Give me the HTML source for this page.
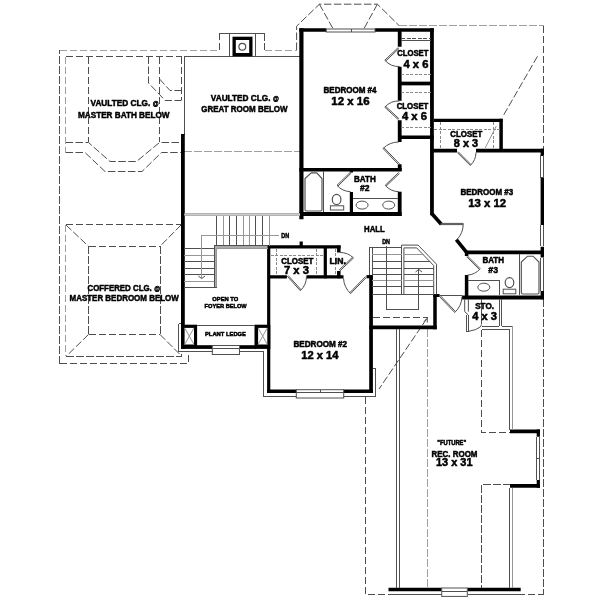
<!DOCTYPE html>
<html><head><meta charset="utf-8">
<style>
html,body{margin:0;padding:0;background:#fff;}
svg{display:block;will-change:transform}
text{font-family:"Liberation Sans",sans-serif;font-weight:bold;fill:#000;stroke:#000;stroke-width:0.5;stroke-linejoin:round}
.w{stroke:#000;stroke-width:3.2;fill:none;stroke-linecap:butt;stroke-linejoin:miter}
.t{stroke:#505050;stroke-width:1;fill:none}
.g{stroke:#969696;stroke-width:1;fill:none}
.d{stroke:#4d4d4d;stroke-width:1;fill:none;stroke-dasharray:7.5 2.5}
.dg{stroke:#a0a0a0;stroke-width:1;fill:none;stroke-dasharray:7.5 2.5}
.ds{stroke:#8a8a8a;stroke-width:1;fill:none;stroke-dasharray:3 1.5}
.wh{fill:#fff;stroke:#505050;stroke-width:1}
</style></head><body>
<svg width="600" height="600" viewBox="0 0 600 600">
<rect width="600" height="600" fill="#fff"/>

<!-- ===== DASHED: master bath ceiling ===== -->
<g class="d" id="dash-mbath">
<path d="M59.5 363.5V50" shape-rendering="crispEdges"/>
<path d="M65.7 56.5H181.5" shape-rendering="crispEdges"/>
<path d="M88.5 56.5V142" shape-rendering="crispEdges"/>
<path d="M159.5 56.5V142" shape-rendering="crispEdges"/>
<path d="M181.5 56.5V100" shape-rendering="crispEdges"/>
<path d="M148.5 56.5V83L159.5 94.5L165 100.5H181.5"/>
<path d="M159.5 79L170 90.5H181.5"/>
<path d="M65.5 142.5H88.5L110 161.5H136.5L159.5 142.5H181.5"/>
<path d="M65.5 152.5H85L105 171.5H142L161.5 152.5H181.5"/>
</g>
<g class="dg">
<path d="M59.5 50H219" shape-rendering="crispEdges"/>
<path d="M264.7 50H296.6" shape-rendering="crispEdges"/>
<path d="M65.7 56.5V152.5" shape-rendering="crispEdges"/>
<path d="M184 151.8H300" shape-rendering="crispEdges"/>
<path d="M65.7 224.5V356" shape-rendering="crispEdges"/>
<path d="M399 25.5H543.5" shape-rendering="crispEdges"/>
<path d="M427.5 328.6V588" shape-rendering="crispEdges" style="stroke-dasharray:8 2"/>
</g>

<!-- ===== DASHED: coffered ceiling ===== -->
<g class="d" id="dash-coff">
<path d="M65.7 224.5H181" shape-rendering="crispEdges"/>
<path d="M88.5 246.3H160" shape-rendering="crispEdges"/>
<path d="M88.5 246.3V334.5" shape-rendering="crispEdges"/>
<path d="M160 246.3V334.5" shape-rendering="crispEdges"/>
<path d="M88.5 334.5H160" shape-rendering="crispEdges"/>
<path d="M66 225L88.5 246.3"/>
<path d="M181 225L160 246.3"/>
<path d="M88.5 334.5L66 356.5"/>
<path d="M160 334.5L181 355.5"/>
<path d="M66 356.5H181V351.5" shape-rendering="crispEdges"/>
<path d="M59.5 363.5H188V352" shape-rendering="crispEdges"/>
</g>

<!-- ===== DASHED: roof lines ===== -->
<g class="d" id="dash-roof">
<path d="M219.2 50V33.3M264.7 33.3V50" shape-rendering="crispEdges"/>
<path d="M296.6 50V26.2L319.4 4.2H377.4L399 25.5"/>
<path d="M543.5 25.5V150" shape-rendering="crispEdges"/>
<path d="M319.4 4.2L333 28.6"/>
<path d="M377.4 4.2L364 28.6"/>
<path d="M537.5 56.3L502.5 117"/>
<path d="M543.5 299V594" shape-rendering="crispEdges"/>
<path d="M365 396.5V594H543.5" shape-rendering="crispEdges"/>
<path d="M481.6 329.5V432.5H510.5" shape-rendering="crispEdges"/>
<path d="M510.5 484.3H481.5V588" shape-rendering="crispEdges"/>
<path d="M372.5 317.8H427.8" shape-rendering="crispEdges"/>
<path d="M426.7 318.8L379 389"/>
</g>

<!-- ===== THIN solid ===== -->
<g class="t" id="thin">
<!-- great room -->
<path d="M184.3 135V56.4H300" shape-rendering="crispEdges"/>
<path d="M229.2 33.3V56.3M255.3 33.3V56.3M219.2 33.3H264.7" shape-rendering="crispEdges"/>
<!-- stair hall top double line -->
<path d="M184.3 213.6H300M184.3 215.8H300" shape-rendering="crispEdges"/>
</g>

<!-- ===== THICK walls ===== -->
<g class="w" id="walls">
<!-- chimney -->
<rect x="234.15" y="38.35" width="16.7" height="16.3" style="stroke-width:3.3"/>
<!-- bedroom 4 -->
<path d="M301.4 219.3V28.3" style="stroke-width:4.2"/>
<path d="M299.3 30.05H326.3M375 30.05H433.8" style="stroke-width:3.6"/>
<path d="M431.95 28.3V215.3" style="stroke-width:3.8"/>
<path d="M399.7 31V46.7M399.7 66.7V100.7M399.7 120.2V142.1M399.7 164.2V171" style="stroke-width:3.8"/>
<path d="M401 83.5H431" style="stroke-width:3.7"/>
<path d="M398 137.2H433.7" style="stroke-width:3.6"/>
<path d="M299.3 169.75H401.6" style="stroke-width:3.4"/>
<!-- bath 2 -->
<path d="M299.3 214H401.6" style="stroke-width:4"/>
<path d="M399.7 191.7V216" style="stroke-width:3.8"/>
<path d="M351.4 192V212.2M351.4 170.8V172.5" style="stroke-width:3.2"/>
<!-- closet 8x3 -->
<path d="M433.7 120.4H502.6"/>
<path d="M501.1 118.8V152" style="stroke-width:3.5"/>
<!-- bedroom 3 -->
<path d="M430.7 150.6H457M476 150.6H543.8" style="stroke-width:3.6"/>
<path d="M542.3 148.8V156M542.3 177.2V225M542.3 246.8V257.5M542.3 291V299.3" style="stroke-width:3.4"/>
<path d="M432.2 214L441.3 224.3" style="stroke-width:3.6"/>
<path d="M456.3 239.6L467 252.8" style="stroke-width:3.6"/>
<path d="M465 252.4H544" style="stroke-width:3.9"/>
<!-- bath 3 -->
<path d="M466.6 252V256M466.6 275.1V296" style="stroke-width:3.5"/>
<path d="M462 297.5H544" style="stroke-width:4.1"/>
<!-- stairwell -->
<path d="M371.05 275.2V392.8" style="stroke-width:3.7"/>
<path d="M366.5 276.7H372.5"/>
<path d="M369.3 327.4H436.7" style="stroke-width:3.8"/>
<path d="M435 294.3V329.3" style="stroke-width:3.5"/>
<path d="M433.3 295.5H439.6" style="stroke-width:3"/>
<!-- bedroom 2 -->
<path d="M268.7 245.4V392.8"/>
<path d="M267 246.9H340.6"/>
<path d="M301.2 241.5V246"/>
<path d="M325.3 248V278.3"/>
<path d="M338.8 245.4V252.4M338.8 271V278.3" style="stroke-width:3.5"/>
<path d="M268 276.8H286.9M306.5 276.8H343.5"/>
<path d="M267 391.3H297.5M342.5 391.3H372.9" style="stroke-width:3.4"/>
<!-- foyer -->
<path d="M182.9 134V348.9" style="stroke-width:3.8"/>
<!-- rec room -->
<path d="M388.5 589.5H441.7M467.3 589.5H520.7" style="stroke-width:3.6"/>
<path d="M510 431.3H540M510 485.8H540" style="stroke-width:3.8"/>
<path d="M538.3 429.4V436.7M538.3 480V487.7"/>
</g>


<!-- ===== plant ledge / foyer bottom ===== -->
<g id="ledge">
<rect x="181.2" y="324.7" width="15.9" height="24.2" fill="#000"/>
<rect x="254.5" y="324.7" width="15.8" height="24.2" fill="#000"/>
<rect x="196" y="345.2" width="60" height="3.7" fill="#000"/>
<rect x="184.6" y="327.9" width="9.4" height="16.6" fill="#fff"/>
<rect x="258.1" y="327.9" width="9.2" height="16.6" fill="#fff"/>
<path class="t" d="M197 325.2H254.5" shape-rendering="crispEdges"/>
<path class="g" d="M184.6 327.9L194 344.5M194 327.9L184.6 344.5M258.1 327.9L267.3 344.5M267.3 327.9L258.1 344.5"/>
<rect class="wh" x="212.3" y="345.5" width="27.2" height="9"/>
<path class="t" d="M212.5 348.5H239.5" shape-rendering="crispEdges"/>
<path class="t" d="M178.5 323.5H181.3M178.5 323.5V351.5H212.5M239.5 351.5H263.7V396.3H296.3" shape-rendering="crispEdges"/>
</g>

<!-- ===== bedroom 2 window + outer lines ===== -->
<g id="b2win">
<rect class="wh" x="296.3" y="389.7" width="47.4" height="8.3"/>
<path class="t" d="M296.3 392.6H343.7M320.5 389.7V392.6" shape-rendering="crispEdges"/>
<path class="t" d="M343.7 396H375.8V368H372.5" shape-rendering="crispEdges"/>
</g>

<!-- ===== bedroom 4 window ===== -->
<rect class="wh" x="326.3" y="29" width="48.7" height="3"/>
<path class="t" d="M351 29V32" shape-rendering="crispEdges"/>

<!-- ===== bedroom 3 / bath 3 windows ===== -->
<g class="t">
<path d="M540.9 155V177.5M543.5 155V177.5" shape-rendering="crispEdges"/>
<path d="M540.9 225V246.3M543.5 225V246.3" shape-rendering="crispEdges"/>
<path d="M540.9 257.5V291M543.5 257.5V291" shape-rendering="crispEdges"/>
</g>

<!-- ===== rec room thin walls ===== -->
<g class="t" id="rec">
<path d="M396.3 328.6V588M399.4 328.6V588" shape-rendering="crispEdges"/>
<path d="M509.5 487.7V588" shape-rendering="crispEdges"/><path class="g" d="M512.5 487.7V588" shape-rendering="crispEdges"/>
<path d="M536.9 436.7V480M539.6 436.7V480M536.9 458.3H539.6" shape-rendering="crispEdges"/>
<path d="M388.5 594.5H442M467.5 594.5H520.5" shape-rendering="crispEdges"/>
<rect class="wh" x="441.7" y="588" width="25.6" height="8.4"/>
<path d="M441.7 591.3H467.3" shape-rendering="crispEdges"/>
</g>

<!-- ===== STO closet thin walls ===== -->
<g class="t" id="sto">
<path d="M439.2 295.3H462" shape-rendering="crispEdges"/>
<path d="M499.1 299.3V326.2M501.8 299.3V326.2" shape-rendering="crispEdges"/>
<path d="M481.6 299.3V324.4" shape-rendering="crispEdges"/>
<path d="M481.6 326.2H499.1M501.8 326.2H512.5" shape-rendering="crispEdges"/><path class="g" d="M512.5 326.2V429.5" shape-rendering="crispEdges"/>
<path d="M481.6 329.1H509.5V429.5" shape-rendering="crispEdges"/>
<path d="M464.7 299.3V311.6L468.4 315M468.4 299.3V311.6"/>
<path d="M466.4 315V331.4H468.4V315" shape-rendering="crispEdges"/>
<path d="M468.4 331.4Q477 330 480.4 326.8L481.6 324.4"/>
</g>

<!-- ===== upper stairs (foyer) ===== -->
<g id="stairsL">
<path d="M214.2 245.8H267.5V248.3H216.7V287.5H214.2Z" fill="#aaa" stroke="none"/>
<rect x="184.3" y="213.2" width="115.7" height="2.6" fill="#ccc"/>
<path class="t" d="M216.7 215.8V245.8M229.7 215.8V245.8M236.3 215.8V245.8M255.8 215.8V245.8M262.5 215.8V245.8" shape-rendering="crispEdges"/>
<path class="g" d="M223.3 215.8V245.8M243 215.8V245.8M249.2 215.8V245.8M269.2 215.8V245.8" shape-rendering="crispEdges"/>
<path class="t" d="M214.2 287.5V245.8H267.5" shape-rendering="crispEdges"/>
<path class="g" d="M216.7 287.5V248.3H267.5" shape-rendering="crispEdges"/>
<path class="t" d="M184.3 248.7H214.2M184.3 261.7H214.2M184.3 268H214.2M184.3 274.7H214.2M184.3 287.2H216.7" shape-rendering="crispEdges"/>
<path class="g" d="M184.3 255H214.2M184.3 281.3H214.2" shape-rendering="crispEdges"/>
<path class="g" d="M279.3 235H201.7V278.3" shape-rendering="crispEdges"/>
<path class="t" d="M198.3 276L201.7 278.6L205.1 276"/>
</g>

<!-- ===== main stairs ===== -->
<g id="stairsR">
<path class="t" d="M369.3 247.9V274.8M372 247.9V274.8" shape-rendering="crispEdges"/>
<path class="t" d="M369.3 247.9H401.5" shape-rendering="crispEdges"/>
<path class="t" d="M401.5 294.4V245.1H418.1L436.5 264.2V294.4"/>
<path class="t" d="M403.9 294.4V247.9H416.7L433.7 265.6V294.4"/>
<path class="t" d="M372 261.3H401.5M372 268.2H401.5M372 274.2H401.5M372 286.9H401.5M372 294.4H401.5" shape-rendering="crispEdges"/>
<path class="g" d="M372 254.8H401.5M372 280.5H401.5M403.9 254.8H423.5M403.9 280.5H433.7" shape-rendering="crispEdges"/>
<path class="t" d="M403.9 261.3H429.5M403.9 268.2H433.7M403.9 274.2H433.7M403.9 286.9H433.7M401.5 294.4H433.7" shape-rendering="crispEdges"/>
<path class="t" d="M386.5 245.8V309.5H418.8V269.4" shape-rendering="crispEdges"/>
<path class="t" d="M415.5 272L418.8 269.4L422 272"/>
<path class="t" d="M424 321.5L427.3 318.2L427.3 322.5"/>
</g>


<!-- ===== doors ===== -->
<g class="t" id="doors">
<!-- closet4x6 #1 -->
<path d="M398.3 47.5L384.8 60.2A18.5 18.5 0 0 0 399.8 66.5"/>
<path d="M399.1 48.4L385.6 61.1"/>
<!-- closet4x6 #2 -->
<path d="M398.3 119.7L384.8 107.2A18.4 18.4 0 0 1 399.4 101.0"/>
<path d="M399.1 118.8L385.6 106.3"/>
<!-- bed4 -->
<path d="M398.7 164.7L383.0 148.5A22.6 22.6 0 0 1 398.7 142.0"/>
<path d="M399.6 163.9L383.9 147.7"/>
<!-- bath2 R -->
<path d="M398.7 172.5L385.2 185.3A18.6 18.6 0 0 0 398.7 191.7"/>
<path d="M399.5 173.4L386.0 186.2"/>
<!-- bath2 part -->
<path d="M350.5 172.1L337.0 185.3A18.9 18.9 0 0 0 350.5 191.7"/>
<path d="M351.3 173.0L337.8 186.2"/>
<!-- closet8x3 -->
<path d="M457.3 152.5L470.3 165.5A18.4 18.4 0 0 0 476.0 152.5"/>
<path d="M458.1 151.7L471.1 164.7"/>
<!-- bed3 -->
<path d="M440.6 223.4L463.2 223.4A22.6 22.6 0 0 1 456.9 239.7"/>
<path d="M440.6 224.6L463.2 224.6"/>
<!-- bath3 -->
<path d="M467.5 256.0L480.2 268.7A18.0 18.0 0 0 1 467.5 275.1"/>
<path d="M466.7 256.8L479.4 269.5"/>
<!-- hall -->
<path d="M439.2 296.2L454.7 312.5A22.5 22.5 0 0 0 462.0 296.7"/>
<path d="M440.1 295.4L455.6 311.7"/>
<!-- closet7x3 -->
<path d="M287.3 276.3L300.3 290.7A19.4 19.4 0 0 0 306.5 276.3"/>
<path d="M288.2 275.5L301.2 289.9"/>
<!-- bed2 -->
<path d="M366.5 277.3L350.6 293.6A22.8 22.8 0 0 1 343.5 278.3"/>
<path d="M365.6 276.5L349.7 292.8"/>
<!-- LIN -->
<path d="M339.8 271.0L353.5 258.0A18.9 18.9 0 0 0 340.0 252.5"/>
<path d="M339.0 270.1L352.7 257.1"/>
</g>

<!-- ===== closet shelves etc ===== -->
<g id="shelves">
<path class="d" style="stroke-dasharray:4 1.5" d="M401 38.5H430.5" shape-rendering="crispEdges"/>
<path class="t" d="M401 40.3H430.5" shape-rendering="crispEdges"/>
<path class="ds" style="stroke-width:1.3" d="M401 74.6H430.5" shape-rendering="crispEdges"/>
<path class="ds" style="stroke-width:1.3" d="M401 92.6H430.5" shape-rendering="crispEdges"/>
<path class="ds" style="stroke-width:1.3" d="M401 127.8H430.5" shape-rendering="crispEdges"/>
<path class="ds" d="M434 129.5H499.5M440.5 122V148.8M493.8 122V148.8" shape-rendering="crispEdges"/>
<path class="g" d="M496.3 126L485.2 148"/>
<path class="ds" d="M270.6 255.3H323.7M276.4 248.5V275.4M316.6 248.5V275.4M335.4 248.5V275.4" shape-rendering="crispEdges"/>
</g>

<!-- ===== fixtures ===== -->
<g class="t" id="fixtures">
<!-- bath 2 -->
<path d="M323.8 170.8V212" shape-rendering="crispEdges"/>
<path d="M305 209.5V178.5L311.3 172.9H316.7L322 178.5V209.5Q322 211 320.5 211H306.5Q305 211 305 209.5Z" style="stroke-width:1.15"/>
<ellipse cx="336.6" cy="199.4" rx="4.3" ry="5.1" style="stroke-width:1.2"/>
<rect x="330.4" y="205.8" width="13.3" height="4.2"/>
<path d="M353 198H398.4" shape-rendering="crispEdges"/>
<ellipse cx="362.1" cy="205.1" rx="6" ry="4"/>
<ellipse cx="388.7" cy="205.1" rx="6" ry="4"/>
<!-- bath 3 -->
<path d="M519.5 253.8V295" shape-rendering="crispEdges"/>
<path d="M521.3 292.5V262L527.6 256.2H533L539 262V292.5Q539 294 537.5 294H522.8Q521.3 294 521.3 292.5Z" style="stroke-width:1.15"/>
<ellipse cx="509.5" cy="282.6" rx="4.3" ry="5" style="stroke-width:1.2"/>
<rect x="503.2" y="289.2" width="12.6" height="4.6"/>
<path d="M467.5 280.8H499.5V295" shape-rendering="crispEdges"/>
<ellipse cx="483.8" cy="287.2" rx="6" ry="4"/>
<!-- chimney flue -->
<circle cx="242.3" cy="46.7" r="3.4" style="stroke-width:1.2"/>
</g>

<!-- ===== text ===== -->
<g id="labels">
<text x="90.5" y="106.3" font-size="9" textLength="59.7" lengthAdjust="spacingAndGlyphs">VAULTED CLG.</text><text x="152.7" y="106.3" font-size="8" textLength="5.8" lengthAdjust="spacingAndGlyphs">@</text>
<text x="78" y="117.5" font-size="9.0" textLength="91.5" lengthAdjust="spacingAndGlyphs">MASTER BATH BELOW</text>
<text x="210.8" y="101.2" font-size="9" textLength="59.7" lengthAdjust="spacingAndGlyphs">VAULTED CLG.</text><text x="273" y="101.2" font-size="8" textLength="5.8" lengthAdjust="spacingAndGlyphs">@</text>
<text x="201.3" y="112" font-size="9.0" textLength="86.3" lengthAdjust="spacingAndGlyphs">GREAT ROOM BELOW</text>
<text x="87.5" y="291.3" font-size="9" textLength="64.3" lengthAdjust="spacingAndGlyphs">COFFERED CLG.</text><text x="154.2" y="291.3" font-size="8" textLength="5.8" lengthAdjust="spacingAndGlyphs">@</text>
<text x="69.5" y="301.3" font-size="9.0" textLength="109.3" lengthAdjust="spacingAndGlyphs">MASTER BEDROOM BELOW</text>
<text x="323.5" y="93.4" font-size="8.5" textLength="53" lengthAdjust="spacingAndGlyphs">BEDROOM #4</text>
<text x="331.3" y="104.5" font-size="11.2" textLength="38.2" lengthAdjust="spacingAndGlyphs">12 x 16</text>
<text x="397.2" y="55.7" font-size="8.2" textLength="31.2" lengthAdjust="spacingAndGlyphs">CLOSET</text>
<text x="403.4" y="67.8" font-size="11.2" textLength="25" lengthAdjust="spacingAndGlyphs">4 x 6</text>
<text x="396.7" y="108.8" font-size="8.2" textLength="31.7" lengthAdjust="spacingAndGlyphs">CLOSET</text>
<text x="402" y="120.2" font-size="11.2" textLength="25" lengthAdjust="spacingAndGlyphs">4 x 6</text>
<text x="450.3" y="136.8" font-size="8.2" textLength="32" lengthAdjust="spacingAndGlyphs">CLOSET</text>
<text x="453.8" y="146.6" font-size="11.2" textLength="24.3" lengthAdjust="spacingAndGlyphs">8 x 3</text>
<text x="354" y="181.7" font-size="8.8" textLength="21.7" lengthAdjust="spacingAndGlyphs">BATH</text>
<text x="360.1" y="190.9" font-size="8.8" textLength="9.5" lengthAdjust="spacingAndGlyphs">#2</text>
<text x="364" y="232.2" font-size="9.2" textLength="20.8" lengthAdjust="spacingAndGlyphs">HALL</text>
<text x="382.2" y="244" font-size="7" textLength="7.8" lengthAdjust="spacingAndGlyphs">DN</text>
<text x="281.2" y="237.7" font-size="7" textLength="7.9" lengthAdjust="spacingAndGlyphs">DN</text>
<text x="460.4" y="195" font-size="8.5" textLength="52.8" lengthAdjust="spacingAndGlyphs">BEDROOM #3</text>
<text x="468.2" y="206.9" font-size="11.2" textLength="37.8" lengthAdjust="spacingAndGlyphs">13 x 12</text>
<text x="482.4" y="263.4" font-size="8.8" textLength="21.6" lengthAdjust="spacingAndGlyphs">BATH</text>
<text x="488.3" y="273.3" font-size="8.8" textLength="9.7" lengthAdjust="spacingAndGlyphs">#3</text>
<text x="475.2" y="309.4" font-size="8.2" textLength="18.8" lengthAdjust="spacingAndGlyphs">STO.</text>
<text x="472.2" y="320.1" font-size="11.2" textLength="24.8" lengthAdjust="spacingAndGlyphs">4 x 3</text>
<text x="281.2" y="263.9" font-size="8.2" textLength="32.2" lengthAdjust="spacingAndGlyphs">CLOSET</text>
<text x="284" y="273.5" font-size="11.2" textLength="25" lengthAdjust="spacingAndGlyphs">7 x 3</text>
<text x="329.5" y="263.5" font-size="8.2" textLength="16.3" lengthAdjust="spacingAndGlyphs">LIN.</text>
<text x="212.3" y="300.9" font-size="6.2" textLength="26" lengthAdjust="spacingAndGlyphs">OPEN TO</text>
<text x="204.6" y="308" font-size="6.2" textLength="42.1" lengthAdjust="spacingAndGlyphs">FOYER BELOW</text>
<text x="205" y="336" font-size="6" textLength="41" lengthAdjust="spacingAndGlyphs">PLANT LEDGE</text>
<text x="293.4" y="346.6" font-size="8.5" textLength="53.7" lengthAdjust="spacingAndGlyphs">BEDROOM #2</text>
<text x="301.2" y="358.5" font-size="11.2" textLength="37.2" lengthAdjust="spacingAndGlyphs">12 x 14</text>
<text x="437.2" y="445" font-size="6.4" textLength="29" lengthAdjust="spacingAndGlyphs">&quot;FUTURE&quot;</text>
<text x="431.5" y="456.5" font-size="8.8" textLength="46" lengthAdjust="spacingAndGlyphs">REC. ROOM</text>
<text x="436" y="466.2" font-size="11.2" textLength="36.5" lengthAdjust="spacingAndGlyphs">13 x 31</text>
</g>

</svg>
</body></html>
